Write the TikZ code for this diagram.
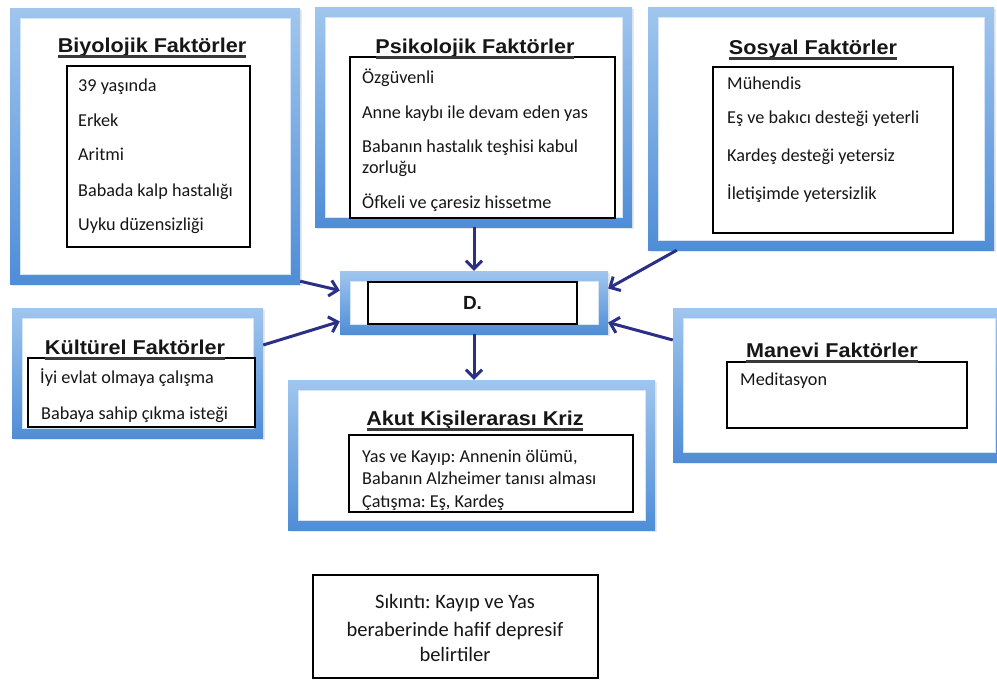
\documentclass[tikz,border=0pt]{standalone}
\usepackage{fontspec}
\setmainfont{Carlito}
\newfontfamily\ttlfont{Liberation Sans}
\usetikzlibrary{arrows.meta,shadows,calc}
\definecolor{frTop}{HTML}{A0C6EE}
\definecolor{frBot}{HTML}{4F8DD7}
\definecolor{frIn}{HTML}{D3E5F7}
\definecolor{arrC}{HTML}{2B3086}
\definecolor{txt}{HTML}{161616}
\newcommand{\ttlsc}[1]{\scalebox{1.08}[1]{#1}}
\frenchspacing
\begin{document}
\begin{tikzpicture}[x=1pt,y=-1pt,
  frame/.style={rectangle, inner sep=0pt, top color=frTop, bottom color=frBot,
    drop shadow={opacity=0.18, shadow xshift=1.5pt, shadow yshift=-2pt},
    path picture={
      \fill[white] ([shift={(10pt,-10pt)}]path picture bounding box.north west)
        rectangle ([shift={(-10pt,10pt)}]path picture bounding box.south east);
      \draw[frIn, line width=1pt] ([shift={(10pt,-10pt)}]path picture bounding box.north west)
        rectangle ([shift={(-10pt,10pt)}]path picture bounding box.south east);
    }},
  ibox/.style={draw=black, line width=1.1pt, fill=white, inner sep=0pt},
  ln/.style={anchor=base west, inner sep=0pt, font=\fontsize{18.2}{22}\selectfont, text=txt},
  cl/.style={anchor=base, inner sep=0pt, font=\fontsize{20.5}{25}\selectfont, text=txt},
  ttl/.style={anchor=base, inner sep=0pt, font=\ttlfont\bfseries\fontsize{20}{24}\selectfont, text=txt},
  uline/.style={draw=txt!85, line width=2.2pt},
  arr/.style={draw=arrC, line width=3pt, -{Straight Barb[length=8pt,width=16pt,line width=3pt]}}
]
\clip (0,0) rectangle (997,680);
\fill[white] (0,0) rectangle (997,680);

% frames
\node[frame, minimum width=290pt, minimum height=276pt] (bio) at (155,146) {};
\node[frame, minimum width=317pt, minimum height=220pt] (psi) at (473.5,117) {};
\node[frame, minimum width=346pt, minimum height=243pt] (sos) at (821,128.5) {};
\node[frame, minimum width=251pt, minimum height=130pt] (kul) at (137.5,373) {};
\node[frame, minimum width=332pt, minimum height=154pt] (man) at (839,385) {};
\node[frame, minimum width=268pt, minimum height=63pt] (d) at (474,302.5) {};
\node[frame, minimum width=367pt, minimum height=150pt] (akut) at (471.5,455) {};

% inner boxes
\node[ibox, minimum width=183pt, minimum height=181pt] (bioB) at (158.5,156.5) {};
\node[ibox, minimum width=265pt, minimum height=161pt] (psiB) at (482.5,137.5) {};
\node[ibox, minimum width=240pt, minimum height=166pt] (sosB) at (833,150) {};
\node[ibox, minimum width=227pt, minimum height=69pt] (kulB) at (141.5,392.5) {};
\node[ibox, minimum width=240pt, minimum height=66pt] (manB) at (847,395) {};
\node[ibox, minimum width=209pt, minimum height=42pt, font=\ttlfont\bfseries\fontsize{19}{22}\selectfont, text=txt] (dB) at (472.5,303) {D.};
\node[ibox, minimum width=284pt, minimum height=77pt] (akutB) at (491,473.5) {};
\node[ibox, minimum width=285pt, minimum height=103pt] (sik) at (455.5,626.5) {};

% titles
\node[ttl] (bioT) at (152,52) {\ttlsc{Biyolojik Faktörler}};
\node[ttl] (psiT) at (475,53) {\ttlsc{Psikolojik Faktörler}};
\node[ttl] (sosT) at (813,54) {\ttlsc{Sosyal Faktörler}};
\node[ttl] (kulT) at (135,354) {\ttlsc{Kültürel Faktörler}};
\node[ttl] (manT) at (832,357) {\ttlsc{Manevi Faktörler}};
\node[ttl] (akutT) at (475,425) {\ttlsc{Akut Kişilerarası Kriz}};
\foreach \nm in {bioT,psiT,sosT,kulT,manT,akutT}
  \draw[uline] ($(\nm.base west)+(0.5,4.5)$) -- ($(\nm.base east)+(-0.5,4.5)$);

% texts
\node[ln] (b1) at (78,91) {39 yaşında};
\node[ln] (b2) at (78,126) {Erkek};
\node[ln] (b3) at (78,160) {Aritmi};
\node[ln] (b4) at (78,196) {Babada kalp hastalığı};
\node[ln] (b5) at (78,230) {Uyku düzensizliği};

\node[ln] (p1) at (362,83) {Özgüvenli};
\node[ln] (p2) at (362,118) {Anne kaybı ile devam eden yas};
\node[ln] (p3) at (362,152) {Babanın hastalık teşhisi kabul};
\node[ln] (p4) at (362,173) {zorluğu};
\node[ln] (p5) at (362,208) {Öfkeli ve çaresiz hissetme};

\node[ln] (s1) at (727,89) {Mühendis};
\node[ln] (s2) at (727,123) {Eş ve bakıcı desteği yeterli};
\node[ln] (s3) at (727,161) {Kardeş desteği yetersiz};
\node[ln] (s4) at (727,199) {İletişimde yetersizlik};

\node[ln] (k1) at (40,383) {İyi evlat olmaya çalışma};
\node[ln] (k2) at (41,419) {Babaya sahip çıkma isteği};

\node[ln] (m1) at (740,385) {Meditasyon};

\node[ln] (a1) at (362,462) {Yas ve Kayıp: Annenin ölümü,};
\node[ln] (a2) at (362,484) {Babanın Alzheimer tanısı alması};
\node[ln] (a3) at (362,507) {Çatışma: Eş, Kardeş};

\node[cl] (c1) at (455,608) {Sıkıntı: Kayıp ve Yas};
\node[cl] (c2) at (455,636) {beraberinde hafif depresif};
\node[cl] (c3) at (455,661) {belirtiler};

% arrows
\draw[arr] ([yshift=3pt]bio.south east) -- ([yshift=12pt]d.west);
\draw[arr] ([yshift=28pt]kul.east) -- ([yshift=-19pt]d.west);
\draw[arr] (psi.south -| d.north) -- (d.north);
\draw[arr] ([xshift=29pt]sos.south west) -- ([yshift=14pt]d.east);
\draw[arr] ([yshift=45pt]man.west) -- ([yshift=-20pt]d.east);
\draw[arr] (d.south) -- (d.south |- akut.north);
\end{tikzpicture}
\end{document}
